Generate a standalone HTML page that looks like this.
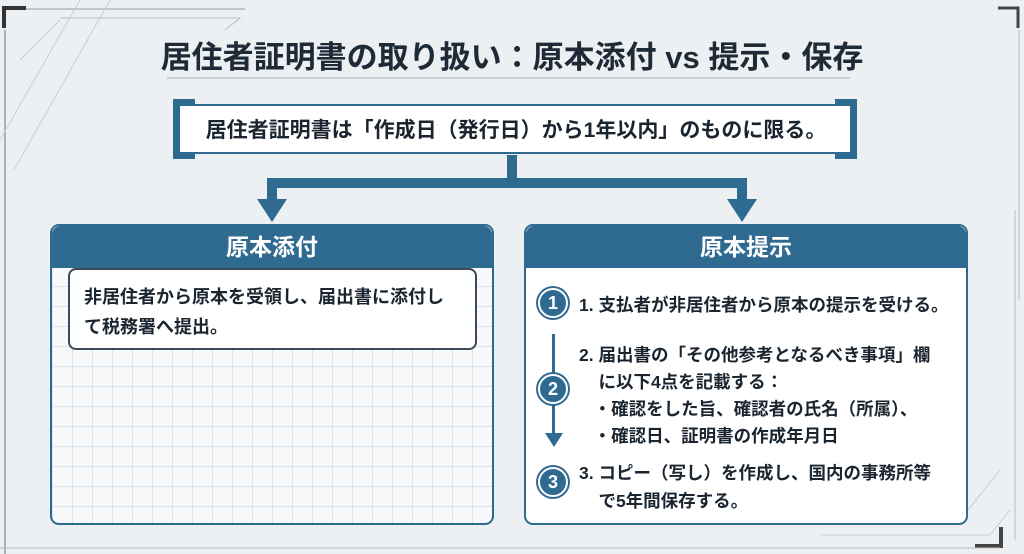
<!DOCTYPE html>
<html><head><meta charset="utf-8"><style>
*{margin:0;padding:0;box-sizing:border-box}
body{width:1024px;height:554px;overflow:hidden;background:#edf0f3;font-family:"Liberation Sans","Noto Sans CJK JP",sans-serif;position:relative;color:#1a2530}
.a{position:absolute}
.t{font-weight:bold;white-space:nowrap}
.hdr{background:#2f6a90;color:#fff;font-size:23px;font-weight:bold;text-align:center;height:42px;line-height:42px;border-radius:8px 8px 0 0}
.panel{border:2px solid #2f6a90;border-radius:9px;overflow:hidden;background:#fff}
.circ{width:30px;height:30px;border-radius:50%;background:#2f6a90;border:2px solid #fff;box-shadow:0 0 0 2px #2f6a90;color:#fff;font-weight:bold;font-size:18px;text-align:center;line-height:26px}
.tx{font-size:17.5px;font-weight:bold;line-height:28px;white-space:nowrap}
</style></head><body>
<svg class="a" style="left:0;top:0" width="1024" height="554">
<path d="M4 28 V8 H26" fill="none" stroke="#333" stroke-width="4"/>
<path d="M5 30 V554" stroke="#999" stroke-width="1.5"/>
<path d="M26 9 H245" stroke="#999" stroke-width="1"/>
<path d="M60 18 H240 L225 30" fill="none" stroke="#bbb"/>
<path d="M14 170 L110 0 M0 140 L80 0 M20 60 L60 20" stroke="#ccc"/>
<path d="M998 8 H1018 V28" fill="none" stroke="#444" stroke-width="3"/>
<path d="M1019 30 V300" stroke="#bbb"/>
<path d="M1001 527 V546 H975" fill="none" stroke="#444" stroke-width="4"/>
<path d="M1015 210 V540 M0 548 H1000" stroke="#bbb"/>
<path d="M820 535 H990 L1010 510 M1000 470 L960 520" stroke="#ccc" fill="none"/>
<path d="M167 78 H850" stroke="#bcc3c9" stroke-width="1.5"/>
<path d="M512 155 V183 H272 V200 M512 183 H742 V200" fill="none" stroke="#2f6a90" stroke-width="10"/>
<path d="M257 199 H287 L272 222 Z M727 199 H757 L742 222 Z" fill="#2f6a90"/>
</svg>
<div class="a t" style="left:0;width:1024px;top:32px;text-align:center;font-size:31px;color:#1e2a35">居住者証明書の取り扱い：原本添付 vs 提示・保存</div>
<div class="a" style="left:178px;top:104px;width:674px;height:50px;background:#fff;border:2px solid #2f6a90"></div>
<div class="a" style="left:173px;top:99px;width:22px;height:60px;border:6px solid #2f6a90;border-right:none"></div>
<div class="a" style="left:835px;top:99px;width:22px;height:60px;border:6px solid #2f6a90;border-left:none"></div>
<div class="a t" style="left:176px;width:680px;top:114px;text-align:center;font-size:21px">居住者証明書は「作成日（発行日）から1年以内」のものに限る。</div>

<div class="a panel" style="left:50px;top:224px;width:444px;height:301px;background-color:#f8f9fb;background-image:linear-gradient(#dde3ea 1px,transparent 1px),linear-gradient(90deg,#dde3ea 1px,transparent 1px);background-size:20px 20px">
<div class="hdr">原本添付</div></div>
<div class="a" style="left:68px;top:268px;width:409px;height:82px;background:#fff;border:2px solid #3a4a58;border-radius:8px"></div>
<div class="a tx" style="left:84px;top:282px;line-height:30px;font-size:18px">非居住者から原本を受領し、届出書に添付し<br>て税務署へ提出。</div>

<div class="a panel" style="left:524px;top:224px;width:444px;height:301px">
<div class="hdr">原本提示</div></div>
<div class="a" style="left:552px;top:334px;width:3px;height:100px;background:#2f6a90"></div>
<svg class="a" style="left:544px;top:433px" width="20" height="16"><path d="M1 0 H19 L10 14Z" fill="#2f6a90"/></svg>
<div class="a circ" style="left:538px;top:288px">1</div>
<div class="a circ" style="left:538px;top:374px">2</div>
<div class="a circ" style="left:538px;top:467px">3</div>
<div class="a tx" style="left:579px;top:291px">1. 支払者が非居住者から原本の提示を受ける。</div>
<div class="a tx" style="left:579px;top:342px;line-height:27px">2. 届出書の「その他参考となるべき事項」欄<br>&nbsp;&nbsp;&nbsp;&nbsp;に以下4点を記載する：<br>&nbsp;&nbsp;&nbsp;・確認をした旨、確認者の氏名（所属）、<br>&nbsp;&nbsp;&nbsp;・確認日、証明書の作成年月日</div>
<div class="a tx" style="left:579px;top:459px;line-height:28px">3. コピー（写し）を作成し、国内の事務所等<br>&nbsp;&nbsp;&nbsp;&nbsp;で5年間保存する。</div>
</body></html>
